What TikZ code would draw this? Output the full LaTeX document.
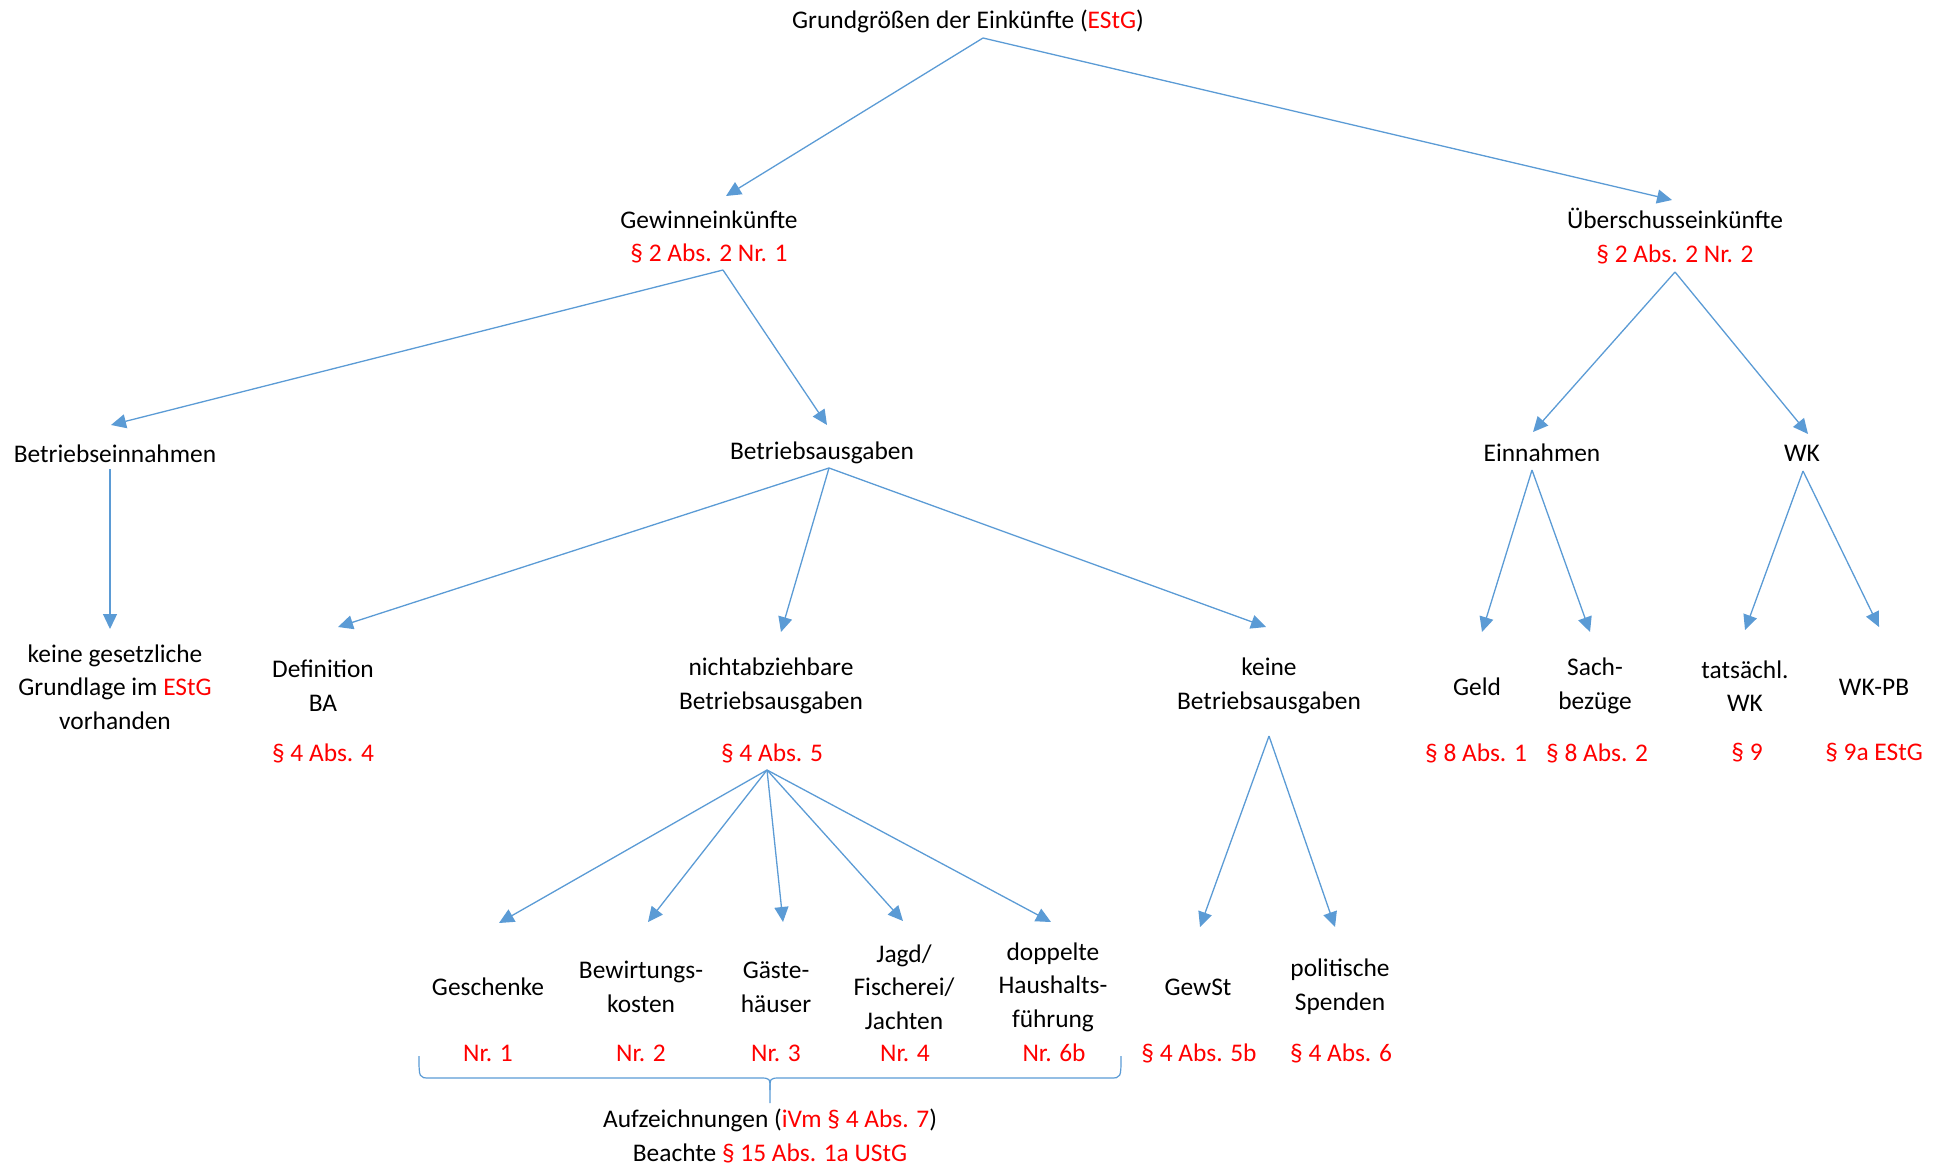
\documentclass[tikz,border=0pt]{standalone}
\usepackage{fontspec}
\setmainfont{Carlito}
\usetikzlibrary{arrows.meta}
\definecolor{lineblue}{HTML}{5B9BD5}
\definecolor{lawred}{HTML}{FF0000}
\newcommand{\redtxt}[1]{\textcolor{lawred}{#1}}
\tikzset{
  lbl/.style={inner sep=0pt, align=center, font=\fontsize{12.7}{16.8}\selectfont},
  conn/.style={draw=lineblue, line width=0.65pt, -{Triangle[length=7.5pt,width=7pt]}},
  bracepath/.style={draw=lineblue, line width=0.6pt}
}
\begin{document}
\begin{tikzpicture}[x=0.5pt,y=-0.5pt]
\useasboundingbox (0,0) rectangle (1947,1167);
% text nodes
\node[lbl] (title) at (968,21) {Grundgrößen der Einkünfte (\redtxt{EStG})};
\node[lbl] (gew) at (709,237) {Gewinneinkünfte\\\redtxt{§ 2 Abs. 2 Nr. 1}};
\node[lbl] (ueb) at (1675,236) {Überschusseinkünfte\\\redtxt{§ 2 Abs. 2 Nr. 2}};
\node[lbl] (bein) at (115,454) {Betriebseinnahmen};
\node[lbl] (baus) at (822,453) {Betriebsausgaben};
\node[lbl] (ein) at (1542,453) {Einnahmen};
\node[lbl] (wk) at (1802,453) {WK};
\node[lbl] (kgg) at (115,687) {keine gesetzliche\\Grundlage im \redtxt{EStG}\\vorhanden};
\node[lbl] (def) at (323,686) {Definition\\BA};
\node[lbl] (defp) at (323,753) {\redtxt{§ 4 Abs. 4}};
\node[lbl] (nab) at (771,686) {nichtabziehbare\\Betriebsausgaben};
\node[lbl] (nabp) at (772,753) {\redtxt{§ 4 Abs. 5}};
\node[lbl] (kba) at (1269,686) {keine\\Betriebsausgaben};
\node[lbl] (geld) at (1477,687) {Geld};
\node[lbl] (geldp) at (1476,753) {\redtxt{§ 8 Abs. 1}};
\node[lbl] (sach) at (1595,686) {Sach-\\bezüge};
\node[lbl] (sachp) at (1597,753) {\redtxt{§ 8 Abs. 2}};
\node[lbl] (tat) at (1745,686) {tatsächl.\\WK};
\node[lbl] (tatp) at (1747,753) {\redtxt{§ 9}};
\node[lbl] (wkpb) at (1874,687) {WK-PB};
\node[lbl] (wkpbp) at (1874,753) {\redtxt{§ 9a EStG}};
\node[lbl] (gesch) at (488,987) {Geschenke};
\node[lbl] (n1) at (488,1053) {\redtxt{Nr. 1}};
\node[lbl] (bew) at (641,987) {Bewirtungs-\\kosten};
\node[lbl] (n2) at (641,1053) {\redtxt{Nr. 2}};
\node[lbl] (gaest) at (776,987) {Gäste-\\häuser};
\node[lbl] (n3) at (776,1053) {\redtxt{Nr. 3}};
\node[lbl] (jagd) at (904,987) {Jagd/\\Fischerei/\\Jachten};
\node[lbl] (n4) at (905,1053) {\redtxt{Nr. 4}};
\node[lbl] (dopp) at (1053,987) {doppelte\\Haushalts-\\führung};
\node[lbl] (n6b) at (1054,1053) {\redtxt{Nr. 6b}};
\node[lbl] (gewst) at (1198,987) {GewSt};
\node[lbl] (gewstp) at (1199,1053) {\redtxt{§ 4 Abs. 5b}};
\node[lbl] (pol) at (1340,987) {politische\\Spenden};
\node[lbl] (polp) at (1341,1053) {\redtxt{§ 4 Abs. 6}};
\node[lbl] (aufz) at (770,1136) {Aufzeichnungen (\redtxt{iVm § 4 Abs. 7})\\Beachte \redtxt{§ 15 Abs. 1a UStG}};
% connector end points
\coordinate (title-out) at (983,38);
\coordinate (gew-in) at (726,196);
\coordinate (ueb-in) at (1672,200);
\coordinate (gew-out) at (723,270);
\coordinate (ueb-out) at (1675,272);
\coordinate (bein-in) at (111,425);
\coordinate (baus-in) at (827,425);
\coordinate (ein-in) at (1533,432);
\coordinate (wk-in) at (1808,434);
\coordinate (bein-out) at (110,469);
\coordinate (kgg-in) at (110,629);
\coordinate (baus-out) at (829,468);
\coordinate (def-in) at (338,627);
\coordinate (nab-in) at (781,632);
\coordinate (kba-in) at (1266,627);
\coordinate (ein-out) at (1532,470);
\coordinate (geld-in) at (1482,632);
\coordinate (sach-in) at (1590,632);
\coordinate (wk-out) at (1803,471);
\coordinate (tat-in) at (1745,630);
\coordinate (wkpb-in) at (1879,627);
\coordinate (nabp-out) at (767,770);
\coordinate (gesch-in) at (499,923);
\coordinate (bew-in) at (648,922);
\coordinate (gaest-in) at (783,922);
\coordinate (jagd-in) at (903,921);
\coordinate (dopp-in) at (1051,922);
\coordinate (kba-out) at (1269,736);
\coordinate (gewst-in) at (1200,927);
\coordinate (pol-in) at (1335,927);
% connectors
\draw[conn] (title-out) -- (gew-in);
\draw[conn] (title-out) -- (ueb-in);
\draw[conn] (gew-out) -- (bein-in);
\draw[conn] (gew-out) -- (baus-in);
\draw[conn] (ueb-out) -- (ein-in);
\draw[conn] (ueb-out) -- (wk-in);
\draw[conn] (bein-out) -- (kgg-in);
\draw[conn] (baus-out) -- (def-in);
\draw[conn] (baus-out) -- (nab-in);
\draw[conn] (baus-out) -- (kba-in);
\draw[conn] (ein-out) -- (geld-in);
\draw[conn] (ein-out) -- (sach-in);
\draw[conn] (wk-out) -- (tat-in);
\draw[conn] (wk-out) -- (wkpb-in);
\draw[conn] (nabp-out) -- (gesch-in);
\draw[conn] (nabp-out) -- (bew-in);
\draw[conn] (nabp-out) -- (gaest-in);
\draw[conn] (nabp-out) -- (jagd-in);
\draw[conn] (nabp-out) -- (dopp-in);
\draw[conn] (kba-out) -- (gewst-in);
\draw[conn] (kba-out) -- (pol-in);
% brace
\coordinate (brL) at (419,1056);
\coordinate (brR) at (1121,1056);
\coordinate (brM) at (770,1103);
\draw[bracepath] (brL) .. controls (419,1078) and (419,1078) .. (430,1078)
  -- (760,1078) .. controls (770,1078) .. (770,1090) -- (brM);
\draw[bracepath] (brR) .. controls (1121,1078) and (1121,1078) .. (1110,1078)
  -- (780,1078) .. controls (770,1078) .. (770,1090);
\end{tikzpicture}
\end{document}
